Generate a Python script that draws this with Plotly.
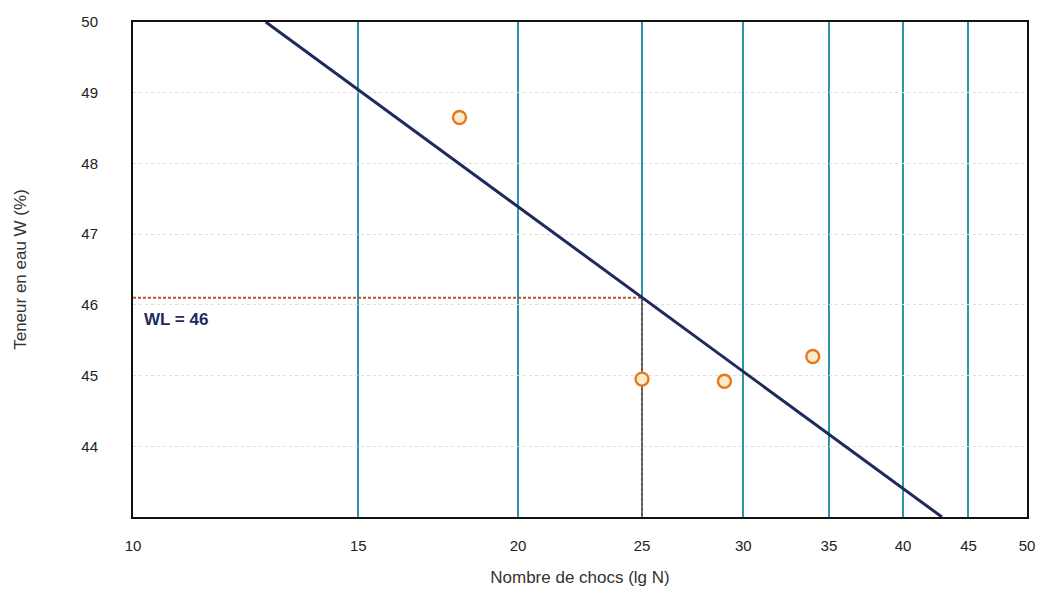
import plotly.graph_objects as go

# Essai de limite de liquidité (Casagrande)
chocs = [18, 25, 29, 34]
teneur = [48.65, 44.95, 44.92, 45.27]

# Droite d'écoulement
droite_n = [12.7, 42.9]
droite_w = [50, 43]

# Lecture à 25 coups
n_ref = 25
wl = 46.1
wl_label = "WL = 46"

x_ticks = [10, 15, 20, 25, 30, 35, 40, 45, 50]
y_ticks = [44, 45, 46, 47, 48, 49, 50]

fig = go.Figure()

# Lignes de lecture rouges
fig.add_trace(go.Scatter(
    x=[10, n_ref], y=[wl, wl],
    mode="lines", line=dict(color="#c0502e", width=2, dash="3px,2px"),
    hoverinfo="skip", showlegend=False,
))
fig.add_trace(go.Scatter(
    x=[n_ref, n_ref], y=[wl, 43],
    mode="lines", line=dict(color="#8a4a3a", width=2, dash="3px,2px"),
    hoverinfo="skip", showlegend=False,
))

fig.add_trace(go.Scatter(
    x=droite_n, y=droite_w, mode="lines",
    line=dict(color="#1f2a5c", width=3), showlegend=False,
))

fig.add_trace(go.Scatter(
    x=chocs, y=teneur, mode="markers",
    marker=dict(symbol="circle", size=13, color="#fdebc8",
                line=dict(color="#e07a22", width=2.4)),
    showlegend=False,
))

fig.add_annotation(
    x=0.01, xref="x domain", y=45.8, yref="y", text=wl_label,
    showarrow=False, xanchor="left", yanchor="middle",
    font=dict(family="Liberation Sans, Arial", size=17, color="#1f2a5c", weight="bold"),
)

fig.update_layout(
    width=1044, height=594,
    margin=dict(l=133, r=17, t=22, b=77),
    paper_bgcolor="white", plot_bgcolor="white",
    font=dict(family="Liberation Sans, Arial", size=14, color="#222"),
)

fig.update_xaxes(
    type="log", range=[1, 1.69897], automargin=False,
    tickvals=x_ticks, ticktext=[str(v) for v in x_ticks],
    showgrid=True, gridcolor="#2f93aa", gridwidth=1.5,
    showline=True, linecolor="#111", linewidth=2, mirror=True,
    ticks="", ticklabelstandoff=14,
    tickfont=dict(size=15, color="#222"),
    title=dict(text="Nombre de chocs (lg N)", font=dict(size=17, color="#333"), standoff=18),
    zeroline=False,
)

fig.update_yaxes(
    range=[43, 50], tickvals=y_ticks, automargin=False,
    showgrid=True, gridcolor="#dddddd", gridwidth=1, griddash="dot",
    showline=True, linecolor="#111", linewidth=2, mirror=True,
    ticks="", ticklabelstandoff=30,
    tickfont=dict(size=15, color="#222"),
    title=dict(text="Teneur en eau W (%)", font=dict(size=17, color="#333"), standoff=50),
    zeroline=False,
)

fig.write_html("out.html")
